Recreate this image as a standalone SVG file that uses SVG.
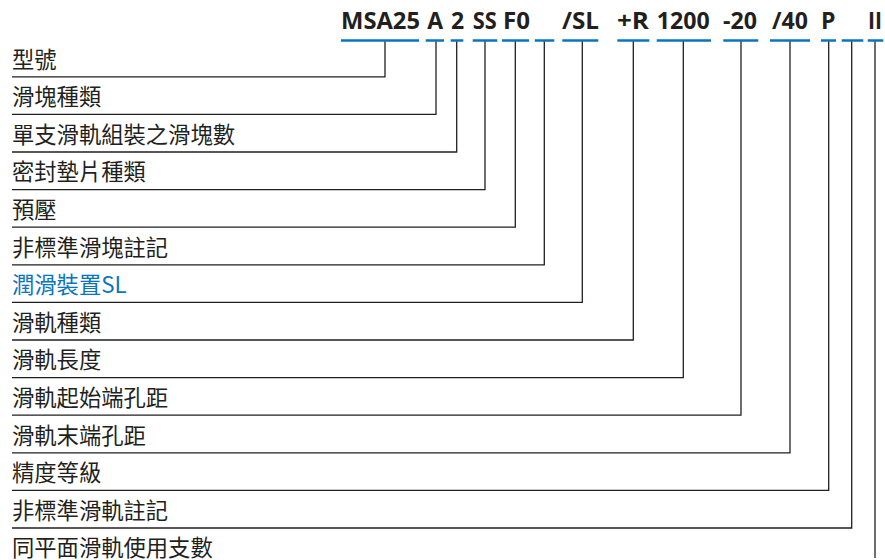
<svg xmlns="http://www.w3.org/2000/svg" width="885" height="560" viewBox="0 0 885 560">
<style>
.code{font-family:"Open Sans","Liberation Sans",sans-serif;font-weight:700;font-size:23px;fill:#231f20;text-anchor:middle}
.lbl{font-family:"Noto Sans CJK TC","Noto Sans",sans-serif;font-size:22.3px;fill:#231f20}
.blue{fill:#0a74c0}
.seg{stroke:#0a74c0;stroke-width:2.5;fill:none}
.ln{stroke:#231f20;stroke-width:1.3;fill:none}
</style>
<rect width="885" height="560" fill="#fff"/>
<g id="header">
<text class="code" x="380.5" y="28.5" textLength="79" lengthAdjust="spacingAndGlyphs">MSA25</text>
<text class="code" x="435.3" y="28.5">A</text>
<text class="code" x="457.5" y="28.5">2</text>
<text class="code" x="484.7" y="28.5" textLength="24" lengthAdjust="spacingAndGlyphs">SS</text>
<text class="code" x="516.5" y="28.5" textLength="27" lengthAdjust="spacingAndGlyphs">F0</text>
<text class="code" x="580.5" y="28.5" textLength="37" lengthAdjust="spacingAndGlyphs">/SL</text>
<text class="code" x="633" y="28.5" textLength="32" lengthAdjust="spacingAndGlyphs">+R</text>
<text class="code" x="683.3" y="28.5" textLength="53" lengthAdjust="spacingAndGlyphs">1200</text>
<text class="code" x="740" y="28.5" textLength="34" lengthAdjust="spacingAndGlyphs">-20</text>
<text class="code" x="790" y="28.5" textLength="36" lengthAdjust="spacingAndGlyphs">/40</text>
<text class="code" x="828.3" y="28.5">P</text>
<text class="code" x="875" y="28.5" textLength="14" lengthAdjust="spacingAndGlyphs">II</text>
</g>
<g id="segments">
<path class="seg" d="M341 40.5H419M425.7 40.5H444M450.7 40.5H463.3M472.7 40.5H497.3M502 40.5H529M534.7 40.5H554.3M562.3 40.5H598.3M617.3 40.5H649.3M656.7 40.5H711M723.3 40.5H758.3M770 40.5H810M821 40.5H836M841.7 40.5H863.3M867.7 40.5H883.3"/>
</g>
<g id="connectors">
<path class="ln" d="M385 41.5V76.8H12"/>
<path class="ln" d="M436 41.5V114.4H12"/>
<path class="ln" d="M456.7 41.5V152H12"/>
<path class="ln" d="M485 41.5V189.6H12"/>
<path class="ln" d="M515.3 41.5V227.2H12"/>
<path class="ln" d="M544.3 41.5V264.8H12"/>
<path class="ln" d="M582.3 41.5V302.4H12"/>
<path class="ln" d="M633.3 41.5V340H12"/>
<path class="ln" d="M683.3 41.5V377.6H12"/>
<path class="ln" d="M741 41.5V415.2H12"/>
<path class="ln" d="M790 41.5V452.8H12"/>
<path class="ln" d="M828.7 41.5V490.4H12"/>
<path class="ln" d="M851.7 41.5V528H12"/>
<path class="ln" d="M875 41.5V558"/>
</g>
<g id="n1"><text class="lbl" x="12" y="67.5">型號</text></g>
<g id="n2"><text class="lbl" x="12" y="105.1">滑塊種類</text></g>
<g id="n3"><text class="lbl" x="12" y="142.7">單支滑軌組裝之滑塊數</text></g>
<g id="n4"><text class="lbl" x="12" y="180.3">密封墊片種類</text></g>
<g id="n5"><text class="lbl" x="12" y="217.9">預壓</text></g>
<g id="n6"><text class="lbl" x="12" y="255.5">非標準滑塊註記</text></g>
<g id="n7"><text class="lbl blue" x="12" y="293.1">潤滑裝置SL</text></g>
<g id="n8"><text class="lbl" x="12" y="330.7">滑軌種類</text></g>
<g id="n9"><text class="lbl" x="12" y="368.3">滑軌長度</text></g>
<g id="n10"><text class="lbl" x="12" y="405.9">滑軌起始端孔距</text></g>
<g id="n11"><text class="lbl" x="12" y="443.5">滑軌末端孔距</text></g>
<g id="n12"><text class="lbl" x="12" y="481.1">精度等級</text></g>
<g id="n13"><text class="lbl" x="12" y="518.7">非標準滑軌註記</text></g>
<g id="n14"><text class="lbl" x="12" y="555.5">同平面滑軌使用支數</text></g>
</svg>
